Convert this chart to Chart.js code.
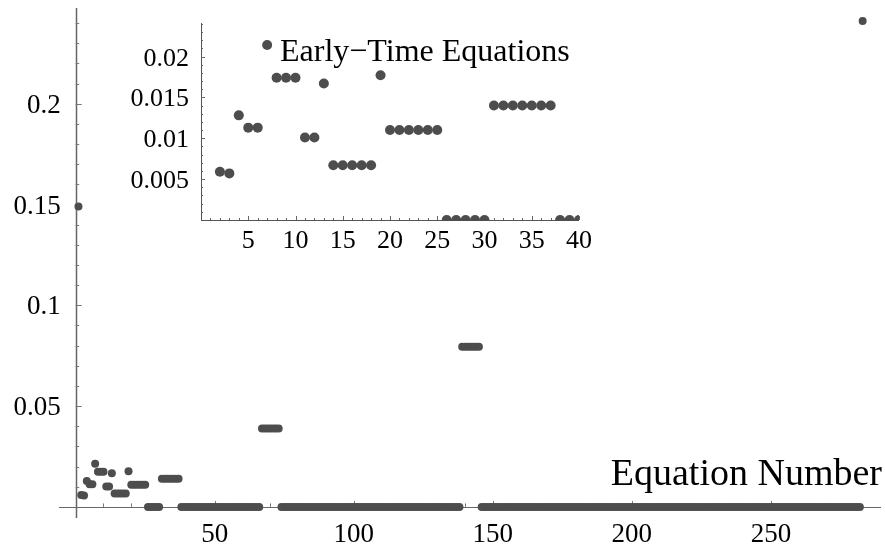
<!DOCTYPE html>
<html>
<head>
<meta charset="utf-8">
<script src="https://cdn.jsdelivr.net/npm/chart.js@4"></script>
<style>
  html, body { margin: 0; padding: 0; background: #fff; }
  #wrap { position: relative; width: 885px; height: 546px; }
  #main { position: absolute; left: 0; top: 0; }
  #inset { position: absolute; left: 110px; top: 0; }
</style>
</head>
<body>
<div id="wrap">
  <canvas id="main" width="885" height="546"></canvas>
  <canvas id="inset" width="490" height="265"></canvas>
</div>
<script>
// value per equation, equations numbered 1..283
const values = [
  0.149, 0.0059, 0.0057, 0.0128, 0.0113, 0.0113, 0.0214, 0.0174, 0.0174, 0.0174,
  0.0101, 0.0101, 0.0167, 0.0067, 0.0067, 0.0067, 0.0067, 0.0067, 0.0177, 0.011,
  0.011, 0.011, 0.011, 0.011, 0.011, 0, 0, 0, 0, 0,
  0.014, 0.014, 0.014, 0.014, 0.014, 0.014, 0.014, 0, 0, 0,
  // 41..66
  0, 0, 0, 0, 0, 0, 0, 0, 0, 0, 0, 0, 0, 0, 0, 0, 0, 0, 0, 0, 0, 0, 0, 0, 0, 0,
  // 67..73
  0.0389, 0.0389, 0.0389, 0.0389, 0.0389, 0.0389, 0.0389,
  // 74..138
  0, 0, 0, 0, 0, 0, 0, 0, 0, 0, 0, 0, 0, 0, 0, 0, 0, 0, 0, 0, 0, 0, 0, 0, 0, 0,
  0, 0, 0, 0, 0, 0, 0, 0, 0, 0, 0, 0, 0, 0, 0, 0, 0, 0, 0, 0, 0, 0, 0, 0, 0, 0,
  0, 0, 0, 0, 0, 0, 0, 0, 0, 0, 0, 0, 0,
  // 139..145
  0.0794, 0.0794, 0.0794, 0.0794, 0.0794, 0.0794, 0.0794,
  // 146..282
  0, 0, 0, 0, 0, 0, 0, 0, 0, 0, 0, 0, 0, 0, 0, 0, 0, 0, 0, 0, 0, 0, 0, 0, 0, 0,
  0, 0, 0, 0, 0, 0, 0, 0, 0, 0, 0, 0, 0, 0, 0, 0, 0, 0, 0, 0, 0, 0, 0, 0, 0, 0,
  0, 0, 0, 0, 0, 0, 0, 0, 0, 0, 0, 0, 0, 0, 0, 0, 0, 0, 0, 0, 0, 0, 0, 0, 0, 0,
  0, 0, 0, 0, 0, 0, 0, 0, 0, 0, 0, 0, 0, 0, 0, 0, 0, 0, 0, 0, 0, 0, 0, 0, 0, 0,
  0, 0, 0, 0, 0, 0, 0, 0, 0, 0, 0, 0, 0, 0, 0, 0, 0, 0, 0, 0, 0, 0, 0, 0, 0, 0,
  0, 0, 0, 0, 0, 0, 0,
  // 283
  0.241,
]
const insetCount = 40

const mainXTicks = [50, 100, 150, 200, 250]
const mainYTicks = [0.05, 0.1, 0.15, 0.2]
const insetXTicks = [5, 10, 15, 20, 25, 30, 35, 40]
const insetYTicks = [0.005, 0.01, 0.015, 0.02]

const xAxisTitle = 'Equation Number'
const insetTitle = 'Early\u2212Time Equations'

const points = values.map((v, i) => ({ x: i + 1, y: v }))
const dotColor = '#4d4d4d'
const serif = '"Liberation Serif", "Times New Roman", serif'

// Mathematica-style axes crossing at the origin, ticks drawn inside
function crossAxes(o) {
  return {
    id: 'crossAxes',
    beforeDatasetsDraw(chart) {
      const { ctx, chartArea: a, scales: { x, y } } = chart
      const x0 = Math.max(a.left, x.getPixelForValue(0))
      const y0 = Math.min(a.bottom, y.getPixelForValue(0))
      ctx.save()
      ctx.strokeStyle = o.axisColor
      ctx.lineWidth = 1
      ctx.beginPath()
      ctx.moveTo(a.left, Math.round(y0) + 0.5)
      ctx.lineTo(a.right, Math.round(y0) + 0.5)
      ctx.stroke()
      ctx.lineWidth = o.yAxisWidth
      ctx.beginPath()
      ctx.moveTo(Math.round(x0) + 0.5, a.bottom)
      ctx.lineTo(Math.round(x0) + 0.5, a.top)
      ctx.stroke()

      ctx.lineWidth = 1
      ctx.strokeStyle = o.tickColor
      ctx.beginPath()
      for (let v = o.xMinor; v <= x.max; v += o.xMinor) {
        const px = Math.round(x.getPixelForValue(v)) + 0.5
        const major = o.xTicks.some(t => Math.abs(t - v) < 1e-9)
        ctx.moveTo(px, y0)
        ctx.lineTo(px, y0 - (major ? o.majorLen : o.minorLen))
      }
      for (let v = o.yMinor; v <= y.max; v += o.yMinor) {
        const py = Math.round(y.getPixelForValue(v)) + 0.5
        const major = o.yTicks.some(t => Math.abs(t - v) < 1e-9)
        ctx.moveTo(x0, py)
        ctx.lineTo(x0 + (major ? o.majorLen : o.minorLen), py)
      }
      ctx.stroke()
      ctx.restore()
    },
    afterDraw(chart) {
      const { ctx, chartArea: a, scales: { x, y } } = chart
      const x0 = Math.max(a.left, x.getPixelForValue(0))
      const y0 = Math.min(a.bottom, y.getPixelForValue(0))
      ctx.save()
      ctx.fillStyle = '#000'
      ctx.font = o.tickFont
      ctx.textBaseline = 'alphabetic'
      ctx.textAlign = 'center'
      o.xTicks.forEach(t => ctx.fillText(String(t), x.getPixelForValue(t), y0 + o.xLabelDrop))
      ctx.textAlign = 'right'
      o.yTicks.forEach(t => ctx.fillText(String(t), x0 - o.yLabelGap, y.getPixelForValue(t) + o.yLabelShift))
      if (o.title) {
        ctx.font = o.title.font
        ctx.textAlign = o.title.align
        ctx.fillText(o.title.text, o.title.x(a), o.title.y(a, y0))
      }
      ctx.restore()
    },
  }
}

new Chart(document.getElementById('main'), {
  type: 'scatter',
  data: {
    datasets: [{
      data: points,
      backgroundColor: dotColor,
      borderWidth: 0,
      pointRadius: 4,
      pointHoverRadius: 4,
      clip: false,
    }],
  },
  options: {
    responsive: false,
    animation: false,
    events: [],
    layout: { padding: { left: 59, right: 0, top: 8, bottom: 28 } },
    scales: {
      x: { type: 'linear', min: -6, max: 289.6, display: false },
      y: { type: 'linear', min: -0.0055, max: 0.2475, display: false },
    },
    plugins: { legend: { display: false }, tooltip: { enabled: false } },
  },
  plugins: [crossAxes({
    axisColor: '#666', yAxisWidth: 1.5, tickColor: '#777',
    xTicks: mainXTicks, yTicks: mainYTicks, xMinor: 10, yMinor: 0.01,
    majorLen: 6, minorLen: 3.5,
    tickFont: '27px ' + serif, xLabelDrop: 35, yLabelGap: 15, yLabelShift: 9,
    title: {
      text: xAxisTitle, font: '38px ' + serif, align: 'right',
      x: a => a.right + 1, y: (a, y0) => y0 - 22,
    },
  })],
})

new Chart(document.getElementById('inset'), {
  type: 'scatter',
  data: {
    datasets: [{
      data: points.slice(0, insetCount),
      backgroundColor: dotColor,
      borderWidth: 0,
      pointRadius: 5,
      pointHoverRadius: 5,
      clip: { left: 6, top: 6, right: 0, bottom: 1 },
    }],
  },
  options: {
    responsive: false,
    animation: false,
    events: [],
    layout: { padding: { left: 91, right: 21, top: 23, bottom: 45 } },
    scales: {
      x: { type: 'linear', min: 0, max: 40, display: false },
      y: { type: 'linear', min: 0, max: 0.0241, display: false },
    },
    plugins: { legend: { display: false }, tooltip: { enabled: false } },
  },
  plugins: [crossAxes({
    axisColor: '#555', yAxisWidth: 1, tickColor: '#666',
    xTicks: insetXTicks, yTicks: insetYTicks, xMinor: 1, yMinor: 0.001,
    majorLen: 4, minorLen: 2,
    tickFont: '26px ' + serif, xLabelDrop: 28, yLabelGap: 12, yLabelShift: 9,
    title: {
      text: insetTitle, font: '32px ' + serif, align: 'left',
      x: a => a.left + 79, y: a => a.top + 38,
    },
  })],
})
</script>
</body>
</html>
